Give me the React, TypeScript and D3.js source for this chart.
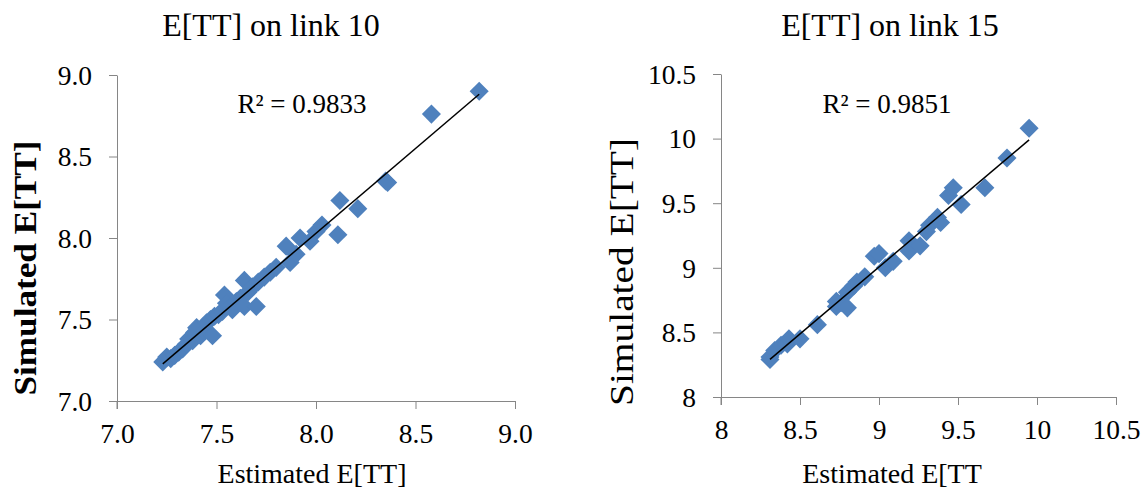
import React, { useEffect, useRef } from 'react';
import * as d3 from 'd3';

// link 10: estimated vs simulated E[TT]
const link10Est = [7.23, 7.25, 7.27, 7.29, 7.31, 7.33, 7.35, 7.36, 7.38, 7.39, 7.40, 7.42, 7.44, 7.45, 7.47, 7.48, 7.49, 7.51, 7.53, 7.54, 7.55, 7.57, 7.58, 7.60, 7.62, 7.64, 7.64, 7.66, 7.68, 7.70, 7.71, 7.74, 7.77, 7.80, 7.85, 7.87, 7.90, 7.92, 7.97, 8.00, 8.03, 8.11, 8.12, 8.21, 8.35, 8.36, 8.58, 8.82];
const link10Sim = [7.24, 7.27, 7.26, 7.28, 7.30, 7.32, 7.35, 7.38, 7.37, 7.42, 7.45, 7.40, 7.43, 7.48, 7.50, 7.40, 7.52, 7.53, 7.55, 7.65, 7.60, 7.58, 7.56, 7.61, 7.63, 7.74, 7.58, 7.67, 7.70, 7.58, 7.73, 7.76, 7.79, 7.82, 7.95, 7.85, 7.90, 8.00, 7.98, 8.04, 8.08, 8.02, 8.23, 8.18, 8.35, 8.34, 8.76, 8.90];

// link 15
const link15Est = [8.31, 8.31, 8.34, 8.38, 8.42, 8.43, 8.50, 8.61, 8.73, 8.73, 8.76, 8.80, 8.80, 8.84, 8.86, 8.91, 8.97, 9.00, 9.04, 9.09, 9.19, 9.19, 9.26, 9.30, 9.32, 9.37, 9.39, 9.44, 9.47, 9.52, 9.67, 9.81, 9.95];
const link15Sim = [8.29, 8.31, 8.36, 8.40, 8.41, 8.45, 8.45, 8.56, 8.70, 8.74, 8.73, 8.81, 8.69, 8.86, 8.89, 8.93, 9.09, 9.11, 9.00, 9.05, 9.21, 9.13, 9.17, 9.28, 9.33, 9.39, 9.35, 9.56, 9.62, 9.49, 9.62, 9.85, 10.08];

const link10Ticks = [7.0, 7.5, 8.0, 8.5, 9.0];
const link15Ticks = [8, 8.5, 9, 9.5, 10, 10.5];

const FONT = '"Liberation Serif", "Times New Roman", serif';
const AXIS_COLOR = '#868686';
const MARKER_COLOR = '#4F81BD';

const panels = [
  {
    est: link10Est,
    sim: link10Sim,
    ticks: link10Ticks,
    fmt: d3.format('.1f'),
    xRange: [117, 515],
    yRange: [401, 75],
    title: 'E[TT] on link 10',
    titleX: 271,
    xLabel: 'Estimated E[TT]',
    xLabelX: 312,
    yLabel: 'Simulated E[TT]',
    yBold: true,
    yLabelX: 36,
    yLabelY: 268,
    yLabelLen: 255,
    r2: 'R² = 0.9833',
    r2X: 302,
  },
  {
    est: link15Est,
    sim: link15Sim,
    ticks: link15Ticks,
    fmt: (d) => String(d),
    xRange: [721, 1116],
    yRange: [397, 74],
    title: 'E[TT] on link 15',
    titleX: 890,
    xLabelX: 892,
    xLabel: 'Estimated E[TT',
    yLabel: 'Simulated E[TT]',
    yBold: false,
    yLabelX: 633,
    yLabelY: 272,
    yLabelLen: 268,
    r2: 'R² = 0.9851',
    r2X: 887,
  },
];

const App = () => {
  const svgRef = useRef(null);

  useEffect(() => {
    const svg = d3.select(svgRef.current);
    svg.selectAll('*').remove();

    panels.forEach((p) => {
      const dom = [p.ticks[0], p.ticks[p.ticks.length - 1]];
      const x = d3.scaleLinear().domain(dom).range(p.xRange);
      const y = d3.scaleLinear().domain(dom).range(p.yRange);
      const g = svg.append('g');

      // axes
      const xAxis = d3.axisBottom(x).tickValues(p.ticks).tickSize(8).tickSizeOuter(0).tickFormat(p.fmt);
      const yAxis = d3.axisLeft(y).tickValues(p.ticks).tickSize(8).tickSizeOuter(0).tickFormat(p.fmt);

      const gx = g.append('g').attr('transform', `translate(0,${p.yRange[0]})`).call(xAxis);
      const gy = g.append('g').attr('transform', `translate(${p.xRange[0]},0)`).call(yAxis);

      [gx, gy].forEach((a) => {
        a.attr('font-family', FONT);
        a.select('.domain').attr('stroke', AXIS_COLOR);
        a.selectAll('.tick line').attr('stroke', AXIS_COLOR);
        a.selectAll('.tick text')
          .attr('font-family', FONT)
          .attr('font-size', 27.5)
          .attr('fill', '#000');
      });
      gx.selectAll('.tick text').attr('dy', 0).attr('y', 42);
      gy.selectAll('.tick text').attr('x', -25).attr('dy', '0.34em');
      // y axis runs down past the x axis like Excel
      gy.append('line')
        .attr('x1', 0).attr('x2', 0)
        .attr('y1', p.yRange[0]).attr('y2', p.yRange[0] + 8)
        .attr('stroke', AXIS_COLOR);

      // markers
      const pts = p.est.map((e, i) => ({ e, s: p.sim[i] }));
      g.append('g')
        .selectAll('path')
        .data(pts)
        .join('path')
        .attr('d', d3.symbol(d3.symbolSquare, 182)())
        .attr('transform', (d) => `translate(${x(d.e)},${y(d.s)}) rotate(45)`)
        .attr('fill', MARKER_COLOR);

      // linear trendline
      const mx = d3.mean(p.est);
      const my = d3.mean(p.sim);
      const slope = d3.sum(pts, (d) => (d.e - mx) * (d.s - my)) / d3.sum(pts, (d) => (d.e - mx) ** 2);
      const icpt = my - slope * mx;
      const [x0, x1] = d3.extent(p.est);
      g.append('line')
        .attr('x1', x(x0)).attr('y1', y(slope * x0 + icpt))
        .attr('x2', x(x1)).attr('y2', y(slope * x1 + icpt))
        .attr('stroke', '#000')
        .attr('stroke-width', 1.5);

      const txt = (sel) => sel.attr('font-family', FONT).attr('fill', '#000').attr('text-anchor', 'middle');

      g.append('text').call(txt).attr('x', p.titleX).attr('y', 36).attr('font-size', 32).text(p.title);
      g.append('text').call(txt).attr('x', p.xLabelX).attr('y', 483).attr('font-size', 28).text(p.xLabel);
      g.append('text').call(txt)
        .attr('transform', `translate(${p.yLabelX},${p.yLabelY}) rotate(-90)`)
        .attr('font-size', p.yBold ? 31 : 33)
        .attr('font-weight', p.yBold ? 'bold' : 'normal')
        .attr('textLength', p.yLabelLen)
        .attr('lengthAdjust', 'spacingAndGlyphs')
        .text(p.yLabel);
      g.append('text').call(txt).attr('x', p.r2X).attr('y', 113).attr('font-size', 27).text(p.r2);
    });
  }, []);

  return (
    <svg
      ref={svgRef}
      width={1147}
      height={490}
      style={{ position: 'absolute', left: 0, top: 0, background: '#fff' }}
    ></svg>
  );
};

export default App;
